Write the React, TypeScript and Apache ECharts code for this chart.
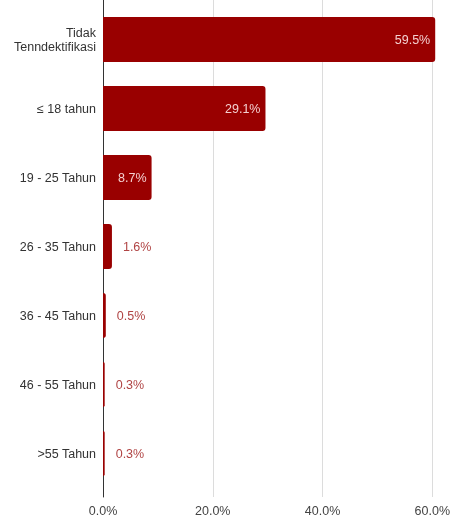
import React, { useEffect, useRef } from "react";
import * as echarts from "echarts";

const categories = ["Tidak\nTenndektifikasi", "≤ 18 tahun", "19 - 25 Tahun", "26 - 35 Tahun", "36 - 45 Tahun", "46 - 55 Tahun", ">55 Tahun"];
const values = [59.5, 29.1, 8.7, 1.6, 0.5, 0.3, 0.3];
const xTicks = [0, 20, 40, 60];

export default function App() {
  const ref = useRef<HTMLDivElement>(null);
  useEffect(() => {
    if (!ref.current) return;
    const chart = echarts.init(ref.current, null, { renderer: "svg" });
    const data = values.map((v) => {
      const inside = v > 5;
      return {
        value: v,
        label: inside
          ? { position: "insideRight", color: "#f4d0d0", distance: 5 }
          : { position: "right", color: "#b04444", distance: 11 },
      };
    });
    const font = "Liberation Sans";
    chart.setOption({
      animation: false,
      grid: [
        { left: 103, right: 15, top: 5, bottom: 29, containLabel: false },
        { left: 103, right: 15, top: 0, bottom: 19, containLabel: false },
      ],
      xAxis: [
        {
          gridIndex: 0,
          type: "value",
          min: xTicks[0],
          max: xTicks[xTicks.length - 1],
          interval: 20,
          axisLine: { show: false },
          axisTick: { show: false },
          splitLine: { show: false },
          axisLabel: { show: false },
        },
        {
          gridIndex: 1,
          type: "value",
          min: xTicks[0],
          max: xTicks[xTicks.length - 1],
          interval: 20,
          axisLine: { show: false },
          axisTick: { show: false },
          splitLine: { show: true, lineStyle: { color: "#dcdcdc", width: 1 } },
          axisLabel: {
            formatter: (v: number) => v.toFixed(1) + "%",
            color: "#444",
            fontSize: 12.5,
            fontFamily: font,
            margin: 7,
          },
        },
      ],
      yAxis: [
        {
          gridIndex: 0,
          type: "category",
          data: categories,
          inverse: true,
          axisLine: { show: false },
          axisTick: { show: false },
          axisLabel: {
            color: "#333",
            fontSize: 12.5,
            fontFamily: font,
            margin: 7,
            align: "right",
            lineHeight: 14,
          },
        },
        {
          gridIndex: 1,
          type: "category",
          data: categories,
          inverse: true,
          axisLine: { show: true, lineStyle: { color: "#333", width: 1 } },
          axisTick: { show: false },
          axisLabel: { show: false },
          splitLine: { show: false },
        },
      ],
      series: [
        {
          type: "bar",
          xAxisIndex: 0,
          yAxisIndex: 0,
          data,
          barCategoryGap: "35%",
          itemStyle: { color: "#990000", borderRadius: [0, 3, 3, 0] },
          label: {
            show: true,
            formatter: (p: any) => p.value.toFixed(1) + "%",
            fontSize: 12.5,
            fontFamily: font,
          },
        },
      ],
    });
    return () => chart.dispose();
  }, []);
  return <div ref={ref} style={{ position: "fixed", left: 0, top: 0, width: 453, height: 517 }} />;
}
